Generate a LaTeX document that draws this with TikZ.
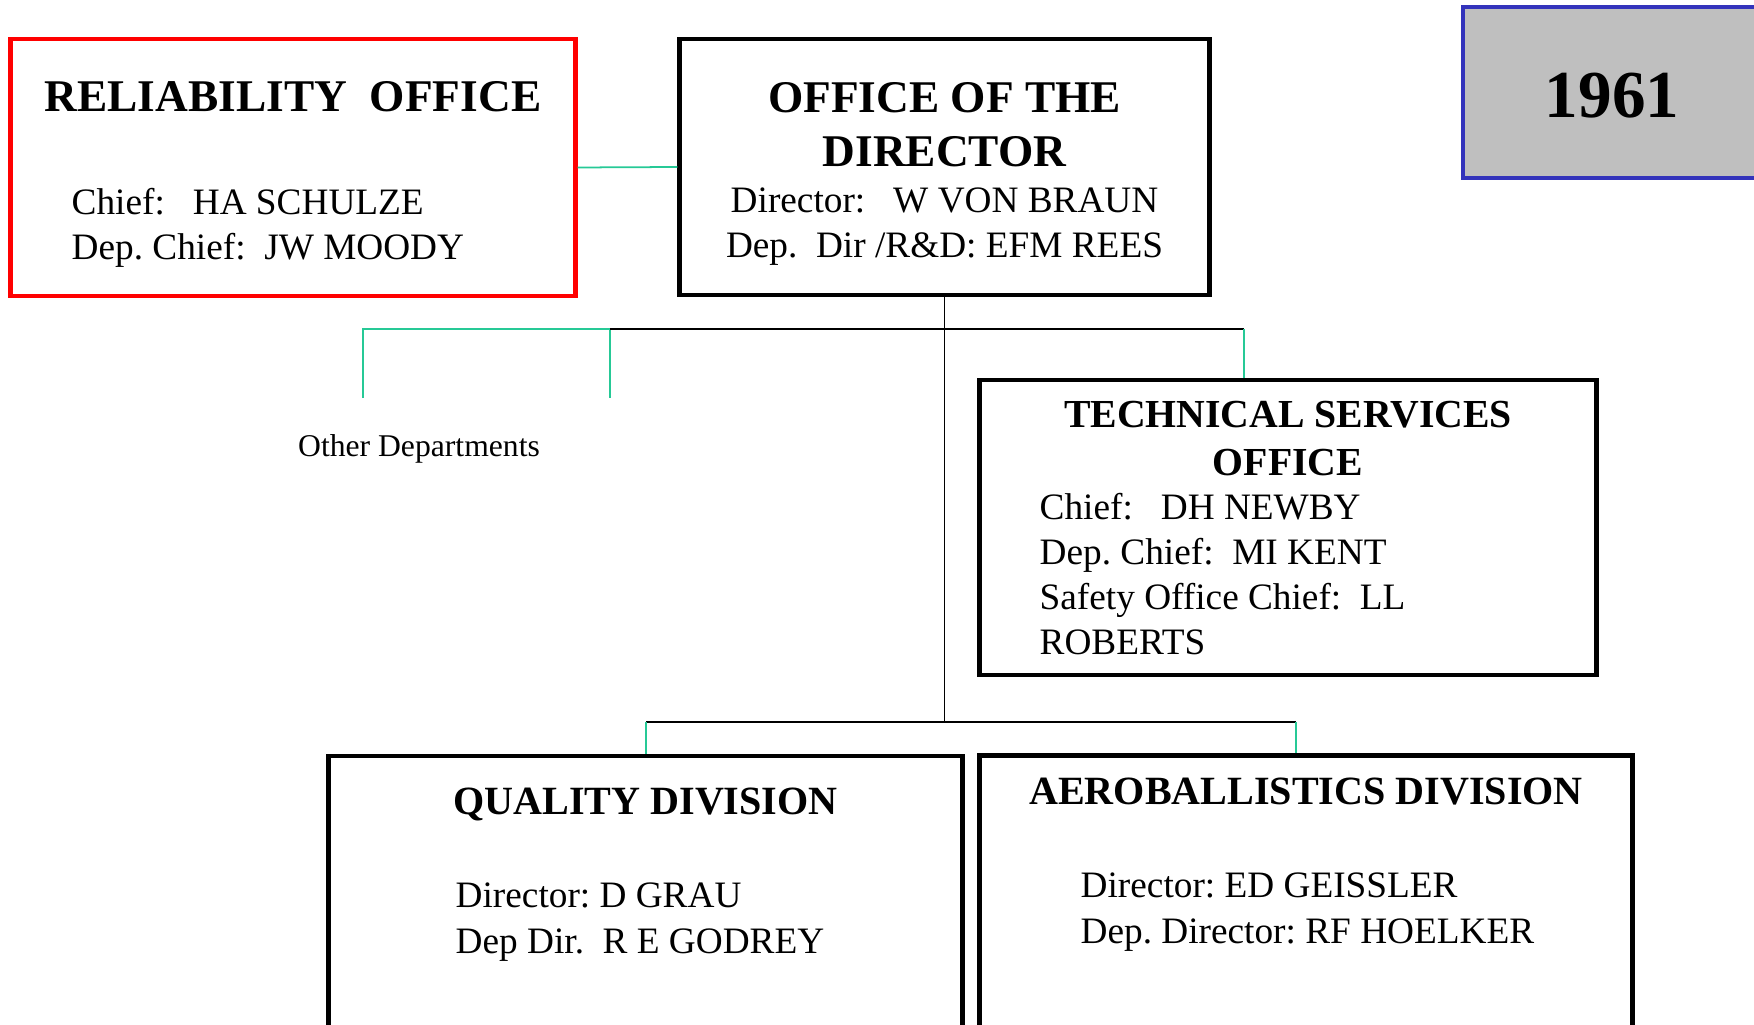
\documentclass[tikz,border=0pt]{standalone}
\usepackage{fontspec}
\setmainfont{Liberation Serif}
\usetikzlibrary{positioning}
\definecolor{relred}{RGB}{255,0,0}
\definecolor{yearblue}{RGB}{51,51,187}
\definecolor{yeargray}{RGB}{191,191,191}
\definecolor{linkgreen}{RGB}{38,201,150}

\begin{document}
\frenchspacing
\begin{tikzpicture}[x=0.01cm, y=-0.01cm,
                    unitbox/.style={draw, rectangle, line width=1.35pt, inner sep=0pt},
                    link/.style={draw=linkgreen, line width=0.5pt},
                    trunk/.style={draw=black, line width=0.5pt},
                    head/.style={inner sep=0pt, align=center, font=\bfseries\fontsize{12.9}{15.6}\selectfont},
                    subhead/.style={inner sep=0pt, align=center, font=\bfseries\fontsize{11.4}{13.7}\selectfont},
                    body/.style={inner sep=0pt, align=left, font=\fontsize{10.6}{12.8}\selectfont}]
                    \useasboundingbox (0,0) rectangle (1754,1025);
                    \clip (0,0) rectangle (1754,1025);
                    % boxes
                    \node[unitbox, draw=relred, minimum width=5.64cm, minimum height=2.57cm] (rel) at (293,167.5) {};
                    \node[unitbox, minimum width=5.29cm, minimum height=2.56cm] (dir) at (944.5,167) {};
                    \node[unitbox, draw=yearblue, fill=yeargray, minimum width=3.37cm, minimum height=1.71cm] (year) at (1631.5,92.5) {};
                    \node[unitbox, minimum width=6.16cm, minimum height=2.95cm] (tech) at (1288,527.5) {};
                    \node[unitbox, minimum width=6.33cm, minimum height=3.44cm] (qual) at (645.5,928) {};
                    \node[unitbox, minimum width=6.52cm, minimum height=3.44cm] (aero) at (1306,927.5) {};
                    % bus points
                    \coordinate (busL) at (363,329);
                    \coordinate (busM) at (610,329);
                    \coordinate (busR) at (1244,329);
                    \coordinate (hubTop) at (dir.south |- busM);
                    \coordinate[below=0.69cm of busL] (otherA);
                    \coordinate[below=0.69cm of busM] (otherB);
                    \coordinate (lowL) at (646,722);
                    \coordinate (lowR) at (1296,722);
                    \coordinate (hubLow) at (dir.south |- lowL);
                    % connectors
                    \draw[link] (rel.east) -- (dir.west);
                    \draw[trunk] (dir.south) -- (hubTop) -- (hubLow);
                    \draw[link] (otherA) -- (busL) -- (busM) -- (otherB);
                    \draw[trunk] (busM) -- (busR);
                    \draw[link] (busR) -- (busR |- tech.north);
                    \draw[trunk] (lowL) -- (lowR);
                    \draw[link] (lowL) -- (lowL |- qual.north);
                    \draw[link] (lowR) -- (lowR |- aero.north);
                    % texts (multi-line nodes sit on their last baseline)
                    \node[head, anchor=base] (relhead) at (293,112) {RELIABILITY\ \ OFFICE};
                    \node[body, anchor=base west] (relbody) at (71,259.5) {Chief:\ \ \ HA SCHULZE\\Dep. Chief:\ \ JW MOODY};
                    \node[head, anchor=base] (dirhead) at (944.5,167) {OFFICE OF THE\\DIRECTOR};
                    \node[body, align=center, anchor=base] (dirbody) at (944.5,258) {Director:\ \ \ W VON BRAUN\\Dep.\ \ Dir /R\&D: EFM REES};
                    \node[inner sep=0pt, anchor=base, font=\bfseries\fontsize{19.1}{22}\selectfont] (yearlabel) at (1612,118) {1961};
                    \node[subhead, font=\bfseries\fontsize{11.3}{13.7}\selectfont, anchor=base] (techhead) at (1288,476) {TECHNICAL SERVICES\\OFFICE};
                    \node[body, anchor=base west] (techbody) at (1039,655) {Chief:\ \ \ DH NEWBY\\Dep. Chief:\ \ MI KENT\\Safety Office Chief:\ \ LL\\ROBERTS};
                    \node[inner sep=0pt, anchor=base, font=\fontsize{9}{11}\selectfont] (other) at (419,457) {Other Departments};
                    \node[subhead, anchor=base] (qualhead) at (645.5,815) {QUALITY DIVISION};
                    \node[body, anchor=base west] (qualbody) at (455,953) {Director: D GRAU\\Dep Dir.\ \ R E GODREY};
                    \node[subhead, anchor=base] (aerohead) at (1306,805) {AEROBALLISTICS DIVISION};
                    \node[body, anchor=base west] (aerobody) at (1080,943) {Director: ED GEISSLER\\Dep. Director: RF HOELKER};
                \end{tikzpicture}
\end{document}
